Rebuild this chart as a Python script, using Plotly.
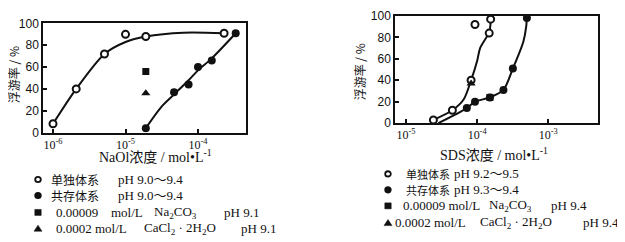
import plotly.graph_objects as go

# page body has an 8px default margin; figure is sized so that it fills the 625x242 window
PAGE_W, PAGE_H = 625, 242
OFF = 8
W, H = PAGE_W - OFF, PAGE_H - OFF

# ---------------- data (log10 of concentration, flotation %) ----------------
# Left chart: NaOl
nal_single_x = [-6.0, -5.68, -5.29, -5.0, -4.72, -3.64]
nal_single_y = [8, 40, 72, 90, 88, 91]
nal_single_curve_x = [-6.0, -5.68, -5.29, -5.0, -4.72, -4.2, -3.64]
nal_single_curve_y = [8, 40, 72, 83, 88, 91.5, 91]

nal_coexist_x = [-4.72, -4.33, -4.13, -4.0, -3.81, -3.48]
nal_coexist_y = [4, 37, 44, 60, 66, 91]
nal_coexist_curve_x = [-4.72, -4.5, -4.33, -4.13, -4.0, -3.81, -3.48]
nal_coexist_curve_y = [4, 24, 35, 48, 57, 68, 91]

nal_na2co3_x = [-4.72]
nal_na2co3_y = [56]
nal_cacl2_x = [-4.72]
nal_cacl2_y = [36]

# Right chart: SDS
sds_single_x = [-4.615, -4.348, -4.085, -3.83, -3.81, -4.03]
sds_single_y = [3, 12, 40, 84, 97, 92]
sds_single_curve_x = [-4.615, -4.348, -4.19, -4.085, -4.0, -3.958, -3.83, -3.805]
sds_single_curve_y = [3, 12, 22, 40, 58, 70, 85, 100]

sds_coexist_x = [-4.145, -4.03, -3.82, -3.63, -3.497, -3.30]
sds_coexist_y = [14, 20, 24, 31, 51, 98]
sds_coexist_curve_x = [-4.545, -4.145, -4.03, -3.82, -3.63, -3.497, -3.35, -3.31, -3.30]
sds_coexist_curve_y = [0, 14, 20, 24, 31, 51, 76, 90, 100]

sds_na2co3_x = [-3.82]
sds_na2co3_y = [24]
sds_cacl2_x = [-4.085]
sds_cacl2_y = [37]

y_ticks = [0, 20, 40, 60, 80, 100]
left_xticks = [-6, -5, -4]
right_xticks = [-5, -4, -3]

# ---------------- helpers ----------------
def pw(v):
    return [10 ** a for a in v]

def fx(px):
    return (px - OFF) / W

def fy(py):
    return 1 - (py - OFF) / H

BLACK = "#111111"
SERIF = "Liberation Serif, Noto Sans CJK SC, serif"
SANS = "Liberation Sans, Arial, sans-serif"
CJK = "Noto Sans CJK SC, sans-serif"

fig = go.Figure()

def curve(x, y, xa, ya):
    fig.add_trace(go.Scatter(x=pw(x), y=y, mode="lines", xaxis=xa, yaxis=ya,
                             line=dict(color=BLACK, width=2, shape="spline", smoothing=0.8),
                             hoverinfo="skip", showlegend=False))

def marks(x, y, xa, ya, symbol, size=7):
    if symbol == "circle-open":
        mk = dict(symbol="circle", size=size, color="white", line=dict(color=BLACK, width=2))
    else:
        mk = dict(symbol=symbol, size=size, color=BLACK, line=dict(color=BLACK, width=0))
    fig.add_trace(go.Scatter(x=pw(x), y=y, mode="markers", xaxis=xa, yaxis=ya,
                             marker=mk, showlegend=False))

# left
curve(nal_single_curve_x, nal_single_curve_y, "x", "y")
curve(nal_coexist_curve_x, nal_coexist_curve_y, "x", "y")
marks(nal_single_x, nal_single_y, "x", "y", "circle-open")
marks(nal_coexist_x, nal_coexist_y, "x", "y", "circle", 8)
marks(nal_na2co3_x, nal_na2co3_y, "x", "y", "square", 7)
marks(nal_cacl2_x, nal_cacl2_y, "x", "y", "triangle-up", 8)

# right
curve(sds_single_curve_x, sds_single_curve_y, "x2", "y2")
curve(sds_coexist_curve_x, sds_coexist_curve_y, "x2", "y2")
marks(sds_single_x, sds_single_y, "x2", "y2", "circle-open")
marks(sds_coexist_x, sds_coexist_y, "x2", "y2", "circle", 8)
marks(sds_na2co3_x, sds_na2co3_y, "x2", "y2", "square", 7)
marks(sds_cacl2_x, sds_cacl2_y, "x2", "y2", "triangle-up", 8)

# legend symbols drawn as paper shapes
shapes = []
leg_sym = [
    ("open", 38, 183), ("filled", 38, 200), ("square", 38, 218), ("tri", 38, 235),
    ("open", 388, 177), ("filled", 388, 194), ("square", 388, 211), ("tri", 388, 229),
]
for kind, lx, ly in leg_sym:
    if kind in ("open", "filled"):
        r = 2.8
        shapes.append(dict(type="circle", xref="paper", yref="paper",
                           x0=fx(lx - r), x1=fx(lx + r), y0=fy(ly + r), y1=fy(ly - r),
                           line=dict(color=BLACK, width=1.8),
                           fillcolor="white" if kind == "open" else BLACK))
    elif kind == "square":
        r = 3.2
        shapes.append(dict(type="rect", xref="paper", yref="paper",
                           x0=fx(lx - r), x1=fx(lx + r), y0=fy(ly + r), y1=fy(ly - r),
                           line=dict(color=BLACK, width=0.5), fillcolor=BLACK))
    else:
        path = f"M {fx(lx - 4)} {fy(ly + 3)} L {fx(lx + 4)} {fy(ly + 3)} L {fx(lx)} {fy(ly - 3.5)} Z"
        shapes.append(dict(type="path", xref="paper", yref="paper", path=path,
                           line=dict(color=BLACK, width=0.5), fillcolor=BLACK))

axis_common = dict(showline=True, mirror=True, linecolor=BLACK, linewidth=1.5,
                   ticks="inside", ticklen=4, tickwidth=1.5, tickcolor=BLACK,
                   showgrid=False, zeroline=False)

def xlabels(vals):
    return [f"10<sup>{v}</sup>" for v in vals]

fig.update_layout(
    width=W, height=H, margin=dict(l=0, r=0, t=0, b=0),
    paper_bgcolor="white", plot_bgcolor="white", showlegend=False, shapes=shapes,
    xaxis=dict(domain=[fx(43), fx(246)], anchor="y", type="log",
               range=[-6.138, -3.338], tickvals=pw(left_xticks), ticktext=xlabels(left_xticks),
               tickfont=dict(family=SERIF, size=12, color=BLACK), **axis_common),
    yaxis=dict(domain=[fy(133), fy(17)], anchor="x", range=[0, 100], tickvals=y_ticks,
               tickfont=dict(family=SANS, size=12, color=BLACK), **axis_common),
    xaxis2=dict(domain=[fx(395), fx(598)], anchor="y2", type="log",
                range=[-5.155, -2.30], tickvals=pw(right_xticks), ticktext=xlabels(right_xticks),
                tickfont=dict(family=SERIF, size=12, color=BLACK), **axis_common),
    yaxis2=dict(domain=[fy(123), fy(9)], anchor="x2", range=[0, 100], tickvals=y_ticks,
                tickfont=dict(family=SANS, size=12, color=BLACK), **axis_common),
)

ann = []

def text(t, x, y, size=13, family=SERIF, xanchor="left", angle=0):
    ann.append(dict(text=t, x=fx(x), y=fy(y), xref="paper", yref="paper",
                    xanchor=xanchor, yanchor="middle", align="left" if xanchor == "left" else "center",
                    showarrow=False, textangle=angle, borderpad=0,
                    font=dict(family=family, size=size, color=BLACK)))

# axis titles
text("NaOl浓度 / mol•L<sup>-1</sup>", 155, 158, 14, SERIF, "center")
text("SDS浓度 / mol•L<sup>-1</sup>", 494, 156, 14, SERIF, "center")
text("浮游率 / %", 13, 72, 12, CJK, "center", -90)
text("浮游率 / %", 359, 69, 12, CJK, "center", -90)

# left legend
text("单独体系", 50, 183, 12, CJK)
text("pH 9.0～9.4", 117, 183)
text("共存体系", 50, 200, 12, CJK)
text("pH 9.0～9.4", 117, 200)
text("0.00009", 55, 218)
text("mol/L", 110, 218)
text("Na<sub>2</sub>CO<sub>3</sub>", 153, 218)
text("pH 9.1", 223, 218)
text("0.0002 mol/L", 55, 235)
text("CaCl<sub>2</sub> · 2H<sub>2</sub>O", 143, 235)
text("pH 9.1", 240, 235)

# right legend
text("单独体系", 405, 177, 11, CJK)
text("pH 9.2～9.5", 453, 177)
text("共存体系", 405, 194, 11, CJK)
text("pH 9.3～9.4", 453, 194)
text("0.00009 mol/L", 402, 211)
text("Na<sub>2</sub>CO<sub>3</sub>", 488, 211)
text("pH 9.4", 550, 211)
text("0.0002 mol/L", 394, 229)
text("CaCl<sub>2</sub> · 2H<sub>2</sub>O", 479, 229)
text("pH 9.4", 582, 229)

fig.update_layout(annotations=ann)
fig.write_html("out.html")
